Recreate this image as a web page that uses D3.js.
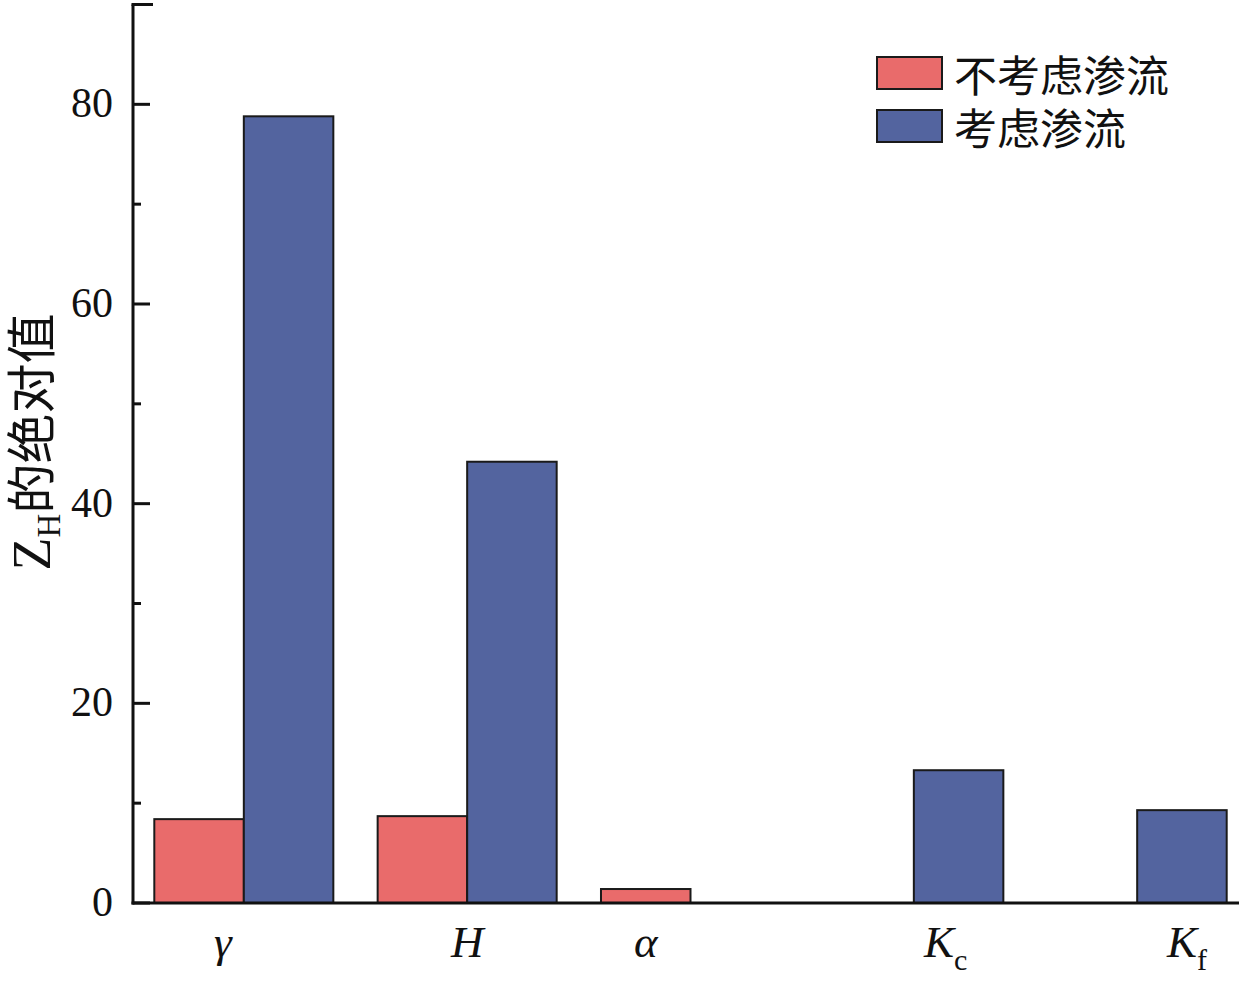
<!DOCTYPE html>
<html>
<head>
<meta charset="utf-8">
<script src="https://cdn.jsdelivr.net/npm/d3@7"></script>
<style>
  html, body { margin: 0; padding: 0; background: #fff; }
  svg { display: block; }
</style>
</head>
<body>
<svg id="chart" width="1252" height="988"></svg>
<script>
// ---------------- data ----------------
const categories   = ["γ", "H", "α", "Kc", "Kf"];
const labelMain    = ["γ", "H", "α", "K", "K"];
const labelSub     = ["", "", "", "c", "f"];
const seriesNames  = ["不考虑渗流", "考虑渗流"];
const noSeepage    = [8.4, 8.7, 1.4, null, null];
const withSeepage  = [78.8, 44.2, null, 13.3, 9.3];
const yTicksMajor  = [0, 20, 40, 60, 80];
const yTicksMinor  = [10, 30, 50, 70];

// ---------------- layout ----------------
const colors = ["#E96B6B", "#53649F"];
const labelNudge = [-21, 0, 0, -13, 5];
const svg = d3.select("#chart");
const axisX = 133, axisY = 903;

const x = d3.scaleBand()
  .domain(categories)
  .range([axisX, 1248])
  .paddingInner(0.1984)
  .paddingOuter(0.0954);
const xs = d3.scaleBand().domain([0, 1]).range([0, x.bandwidth()]);
const y = d3.scaleLinear().domain([0, 90]).range([axisY, 4.5]);

const series = [noSeepage, withSeepage];

// bars
series.forEach((vals, si) => {
  svg.append("g").selectAll("rect")
    .data(categories.map((c, i) => ({c, v: vals[i]})).filter(d => d.v != null))
    .join("rect")
    .attr("x", d => x(d.c) + xs(si))
    .attr("y", d => y(d.v))
    .attr("width", xs.bandwidth())
    .attr("height", d => y(0) - y(d.v))
    .attr("fill", colors[si])
    .attr("stroke", "#1a1a1a")
    .attr("stroke-width", 2);
});

// y axis (ticks inward)
const yAxis = svg.append("g");
yAxis.append("line")
  .attr("x1", axisX).attr("x2", axisX)
  .attr("y1", y(90)).attr("y2", axisY + 1.5)
  .attr("stroke", "#111").attr("stroke-width", 3);
yAxis.append("line")
  .attr("x1", axisX - 1.5).attr("x2", axisX + 20)
  .attr("y1", y(90)).attr("y2", y(90))
  .attr("stroke", "#111").attr("stroke-width", 3);
yAxis.selectAll(".maj").data(yTicksMajor).join("line")
  .attr("x1", axisX).attr("x2", axisX + 17)
  .attr("y1", d => y(d)).attr("y2", d => y(d))
  .attr("stroke", "#111").attr("stroke-width", 3);
yAxis.selectAll(".min").data(yTicksMinor).join("line")
  .attr("x1", axisX).attr("x2", axisX + 8)
  .attr("y1", d => y(d)).attr("y2", d => y(d))
  .attr("stroke", "#111").attr("stroke-width", 3);
yAxis.selectAll("text").data(yTicksMajor).join("text")
  .attr("x", 113)
  .attr("y", d => y(d) + 13)
  .attr("text-anchor", "end")
  .attr("font-family", "'Liberation Serif', 'DejaVu Serif', serif")
  .attr("font-size", 42)
  .attr("fill", "#111")
  .text(d => d);

// x axis line
svg.append("line")
  .attr("x1", axisX - 1.5).attr("x2", 1239)
  .attr("y1", axisY).attr("y2", axisY)
  .attr("stroke", "#111").attr("stroke-width", 3);

// x labels
categories.forEach((c, i) => {
  const present = series.map((s, si) => s[i] != null ? si : null).filter(v => v != null);
  const cx = d3.mean(present, si => x(c) + xs(si) + xs.bandwidth() / 2) + labelNudge[i];
  const t = svg.append("text")
    .attr("x", cx)
    .attr("y", 957)
    .attr("text-anchor", "middle")
    .attr("font-family", "'Liberation Serif', 'DejaVu Serif', serif")
    .attr("font-size", 45)
    .attr("fill", "#111");
  t.append("tspan").attr("font-style", "italic").text(labelMain[i]);
  if (labelSub[i]) {
    t.append("tspan").attr("font-size", 30).attr("dy", 13).text(labelSub[i]);
  }
});

// y title
const yt = svg.append("text")
  .attr("transform", "translate(50,442) rotate(-90)")
  .attr("text-anchor", "middle")
  .attr("fill", "#111")
  .attr("font-size", 50)
  .attr("font-family", "'Noto Sans CJK SC', sans-serif");
yt.append("tspan").attr("font-family", "'Liberation Serif', serif").attr("font-size", 54).text("Z");
yt.append("tspan").attr("font-family", "'Liberation Serif', serif").attr("font-size", 33).attr("dy", 10).text("H");
yt.append("tspan").attr("dy", -10).text("的绝对值");

// legend
const legend = svg.append("g");
seriesNames.forEach((name, i) => {
  const cy = 73 + i * 53;
  legend.append("rect")
    .attr("x", 877).attr("y", cy - 16)
    .attr("width", 65).attr("height", 32)
    .attr("fill", colors[i])
    .attr("stroke", "#1a1a1a").attr("stroke-width", 2);
  legend.append("text")
    .attr("x", 954).attr("y", cy)
    .attr("dominant-baseline", "central")
    .attr("font-family", "'Noto Sans CJK SC', sans-serif")
    .attr("font-size", 43)
    .attr("fill", "#111")
    .text(name);
});
</script>
</body>
</html>
